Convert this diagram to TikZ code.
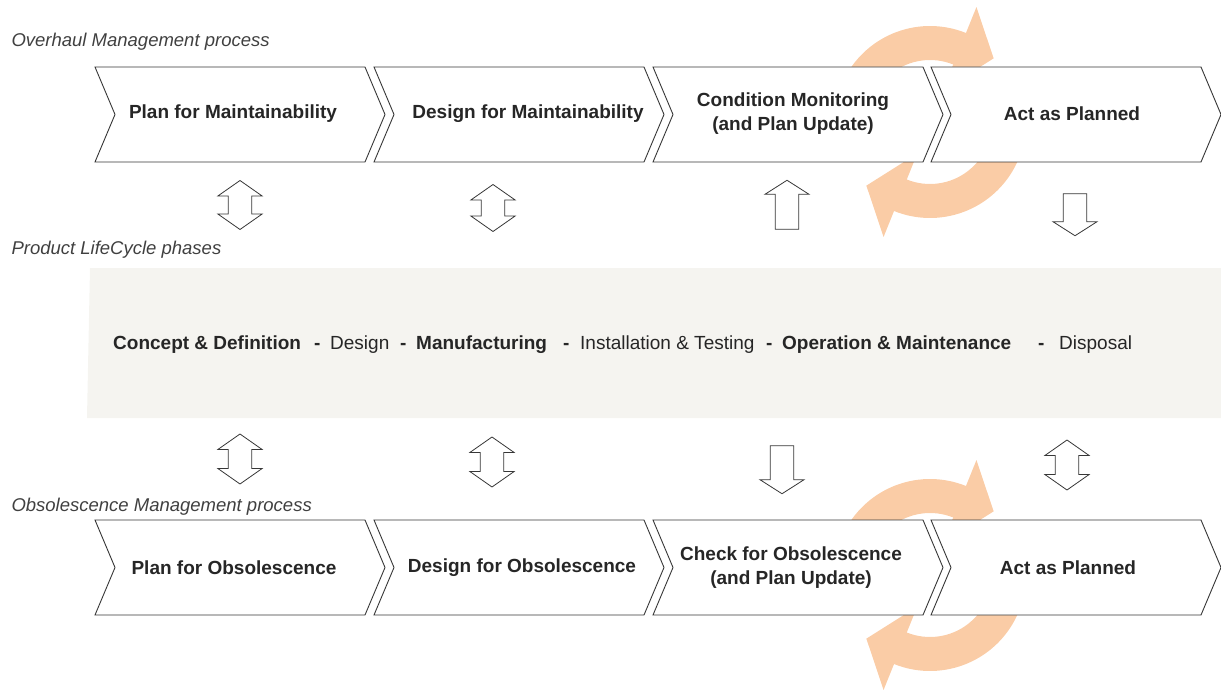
\documentclass[tikz,border=0pt]{standalone}
\usepackage{fontspec}
\setmainfont{Liberation Sans}
\usetikzlibrary{shapes.arrows}

\definecolor{peach}{RGB}{250,204,166}
\definecolor{bandgrey}{RGB}{245,244,240}
\definecolor{edge}{RGB}{55,55,55}

\begin{document}
\begin{tikzpicture}[x=1pt,y=-1pt,
    chev/.style={draw=edge,fill=white,line width=0.9pt,line join=miter},
    boxtext/.style={font=\fontsize{19}{24}\selectfont\bfseries,align=center,text=black!85},
    rowlabel/.style={anchor=west,font=\fontsize{18.5}{22}\selectfont\itshape,text=black!75},
    phase/.style={anchor=base west,inner sep=0pt,font=\fontsize{19}{22}\selectfont,text=black!85},
    key/.style={phase,font=\fontsize{19}{22}\selectfont\bfseries},
    hollow/.style={draw=edge,fill=white,line width=0.8pt,inner xsep=0pt,inner ysep=11pt,
        minimum width=44pt},
    updown/.style={hollow,double arrow,rotate=90,
        double arrow head extend=10pt,double arrow tip angle=110},
    uparrow/.style={hollow,single arrow,rotate=90,
        single arrow head extend=10pt,single arrow tip angle=115},
    downarrow/.style={uparrow,rotate=180}]
    \useasboundingbox (0,0) rectangle (1221,690);

    % lifecycle band
    \fill[bandgrey] (90,268) -- (1221,268) -- (1221,418) -- (87,418) -- cycle;

    % turning arrows behind the last steps
    \foreach \cy in {122,575} {
        \begin{scope}[shift={(930,\cy)},y=1pt]
            \foreach \rot in {0,180}
                \fill[peach,rotate=\rot] (170:96) arc[start angle=170,end angle=68,radius=96]
                    -- (68:124) -- (45:90) -- (68:34)
                    -- (68:62) arc[start angle=68,end angle=170,radius=62] -- cycle;
        \end{scope}
    }

    % process steps
    \foreach \y in {67,520}
        \foreach \l in {95,374,653,931}
            \draw[chev] (\l,\y) -- ++(270,0) -- ++(20,47.5) -- ++(-20,47.5)
                -- ++(-270,0) -- ++(20,-47.5) -- cycle;

    \node[rowlabel] (ovh) at (8,42) {Overhaul Management process};
    \node[rowlabel] (plc) at (8,250) {Product LifeCycle phases};
    \node[rowlabel] (obs) at (8,507) {Obsolescence Management process};

    \node[boxtext] (o1) at (233,114) {Plan for Maintainability};
    \node[boxtext] (o2) at (528,114) {Design for Maintainability};
    \node[boxtext] (o3) at (793,114) {Condition Monitoring\\(and Plan Update)};
    \node[boxtext] (o4) at (1072,114) {Act as Planned};

    \node[boxtext] (m1) at (234,568) {Plan for Obsolescence};
    \node[boxtext] (m2) at (522,568) {Design for Obsolescence};
    \node[boxtext] (m3) at (791,568) {Check for Obsolescence\\(and Plan Update)};
    \node[boxtext] (m4) at (1068,568) {Act as Planned};

    % phases
    \node[key] (p1) at (113,349) {Concept \& Definition};
    \node[key] (d1) at (314,349) {-};
    \node[phase] (p2) at (330,349) {Design};
    \node[key] (d2) at (400,349) {-};
    \node[key] (p3) at (416,349) {Manufacturing};
    \node[key] (d3) at (563,349) {-};
    \node[phase] (p4) at (580,349) {Installation \& Testing};
    \node[key] (d4) at (766,349) {-};
    \node[key] (p5) at (782,349) {Operation \& Maintenance};
    \node[key] (d5) at (1038,349) {-};
    \node[phase] (p6) at (1059,349) {Disposal};

    % links between the processes and the phases
    \node[updown,minimum height=49pt] (a1) at (240,205) {};
    \node[updown,minimum height=47pt] (a2) at (493,208) {};
    \node[uparrow,minimum height=49pt] (a3) at (787,208.5) {};
    \node[downarrow,minimum height=42pt] (a4) at (1075,211) {};

    \node[updown,minimum height=50pt] (b1) at (240,459) {};
    \node[updown,minimum height=50pt] (b2) at (492,462) {};
    \node[downarrow,minimum height=48pt] (b3) at (782,466) {};
    \node[updown,minimum height=50pt] (b4) at (1067,465) {};
\end{tikzpicture}
\end{document}
